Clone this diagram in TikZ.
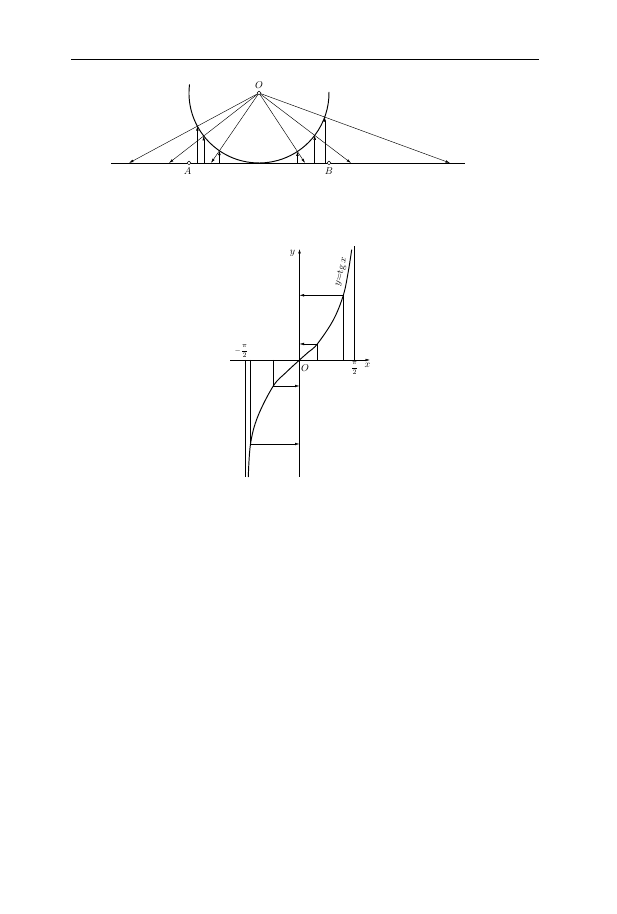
\documentclass[tikz,border=0pt]{standalone}
\usepackage{amsmath}
\usepackage{tikz}
\usetikzlibrary{arrows.meta,calc}

\begin{document}
\begin{tikzpicture}[>={Latex[length=4.5bp,width=2.6bp]},line join=bevel,
  thin line/.style={line width=0.45bp},
  mid line/.style={line width=0.7bp},
  curve line/.style={line width=0.95bp},
  dot/.style={circle,draw,fill=white,inner sep=0pt,minimum size=3.8bp,line width=0.5bp},
  lab/.style={inner sep=0pt,font=\fontsize{10}{12}\selectfont},
  fraclab/.style={inner sep=0pt,font=\fontsize{7.2}{9}\selectfont}]
\useasboundingbox (0bp,0bp) rectangle (617bp,914bp);
%% header rule
\coordinate (hl) at (71bp,855bp);
\coordinate (hr) at (539bp,855bp);
\draw [line width=0.8bp] (hl) -- (hr);
%%
%% upper figure
\begin{scope}
  \coordinate (O) at (259bp,821bp);
  \coordinate (lend) at (111bp,751bp);
  \coordinate (rend) at (465bp,751bp);
  \draw [mid line] (lend) -- (rend);
  \draw [curve line] (O) ++(173:70bp) arc [start angle=173,end angle=361,radius=70bp];
  \foreach \e in {-130,-90,-48,46,92,191} {
    \coordinate (E) at ($(O)+(\e bp,-70bp)$);
    \coordinate (P) at ($(O)!70bp!(E)$);
    \draw [->,thin line] (O) -- (E);
    \draw [->,thin line] (P |- E) -- (P);
  }
  \node (A) at (189bp,751bp) [dot] {};
  \node (B) at (329bp,751bp) [dot] {};
  \node (Odot) at (O) [dot] {};
  \node (Olab) at (259bp,829bp) [lab] {$O$};
  \node (Alab) at (187.5bp,742.5bp) [lab] {$A$};
  \node (Blab) at (329bp,742.5bp) [lab] {$B$};
\end{scope}
%%
%% lower figure
\begin{scope}
  \coordinate (O2) at (299.5bp,554bp);
  \coordinate (xs) at (230bp,554bp);
  \coordinate (xe) at (370bp,554bp);
  \coordinate (ys) at (299.5bp,437bp);
  \coordinate (ye) at (299.5bp,665bp);
  \draw [->,thin line] (xs) -- (xe);
  \draw [->,thin line] (ys) -- (ye);
  % asymptotes
  \coordinate (ra) at (354bp,668bp);
  \coordinate (la) at (245.5bp,437bp);
  \draw [thin line] (ra |- O2) -- (ra);
  \draw [thin line] (la |- O2) -- (la);
  % the curve
  \draw [curve line] plot [smooth,tension=0.6] coordinates {
    (248.3bp,437bp) (250.5bp,470bp) (257.7bp,497.3bp) (273.3bp,528bp)
    (286bp,541.5bp) (299.5bp,554bp) (308.5bp,562bp) (317.3bp,570bp)
    (333.3bp,594bp) (343.3bp,618.7bp) (348.2bp,642bp) (351.7bp,664.3bp)};
  \foreach \px/\py in {343.3/618.7,317.3/570,273.3/528,250.5/470} {
    \coordinate (C) at (\px bp,\py bp);
    \draw [thin line] (C |- O2) -- (C);
    \draw [->,thin line] (C) -- (O2 |- C);
  }
  \node (ylab) at (292.5bp,661bp) [lab] {$y$};
  \node (xlab) at (367.5bp,548.5bp) [lab] {$x$};
  \node (O2lab) at (305bp,546bp) [lab] {$O$};
  \node (pilab) at (354.5bp,546bp) [fraclab] {$\dfrac{\pi}{2}$};
  \node (mpilab) at (241.5bp,563bp) [fraclab] {$-\dfrac{\pi}{2}$};
  \node (curvelab) at (341bp,642bp) [lab,rotate=76] {$y{=}\mathrm{tg}\,x$};
\end{scope}
%
\end{tikzpicture}
\end{document}
